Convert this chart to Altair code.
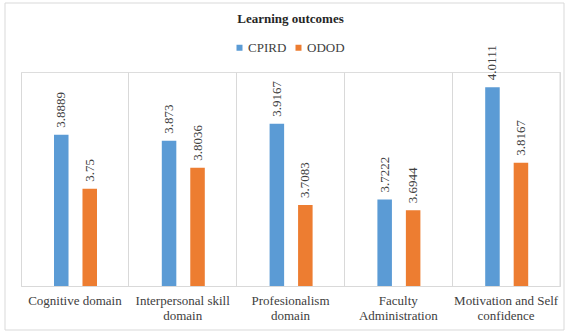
import altair as alt
import pandas as pd

categories = ["Cognitive domain", "Interpersonal skill domain", "Profesionalism domain",
              "Faculty Administration", "Motivation and Self confidence"]
category_lines = [["Cognitive domain"], ["Interpersonal skill", "domain"],
                  ["Profesionalism", "domain"], ["Faculty", "Administration"],
                  ["Motivation and Self", "confidence"]]
series = ["CPIRD", "ODOD"]
cpird = [3.8889, 3.873, 3.9167, 3.7222, 4.0111]
odod = [3.75, 3.8036, 3.7083, 3.6944, 3.8167]
value_labels_cpird = ["3.8889", "3.873", "3.9167", "3.7222", "4.0111"]
value_labels_odod = ["3.75", "3.8036", "3.7083", "3.6944", "3.8167"]
colors = ["#5B9BD5", "#ED7D31"]

rows = []
for i, c in enumerate(categories):
    rows.append({"category": c, "series": "CPIRD", "value": cpird[i], "label": value_labels_cpird[i]})
    rows.append({"category": c, "series": "ODOD", "value": odod[i], "label": value_labels_odod[i]})
df = pd.DataFrame(rows)

# label expression for multi-line category labels
parts = []
for c, lines in zip(categories, category_lines):
    arr = "[" + ",".join("'" + l + "'" for l in lines) + "]"
    parts.append(f"datum.label == '{c}' ? {arr} : ")
label_expr = "".join(parts) + "datum.label"

FONT = "Liberation Serif"
W, H = 539, 214

x_enc = alt.X("category:N", sort=categories,
              scale=alt.Scale(paddingInner=0, paddingOuter=0),
              axis=alt.Axis(title=None, labelAngle=0, labelExpr=label_expr,
                            labelFont=FONT, labelFontSize=13, labelColor="#404040",
                            labelPadding=8, labelLineHeight=15, labelBaseline="top",
                            ticks=False, grid=True, bandPosition=0,
                            gridColor="#D9D9D9", gridWidth=1,
                            domainColor="#D9D9D9", domainWidth=1))
xo_enc = alt.XOffset("series:N", sort=series,
                     scale=alt.Scale(paddingInner=0.49, paddingOuter=0, range=[33, 76]))
y_enc = alt.Y("value:Q", scale=alt.Scale(domain=[3.5, 4.05], clamp=True, zero=False, nice=False),
              axis=None)

base = alt.Chart(df)

bars = base.mark_bar(clip=True).encode(
    x=x_enc, xOffset=xo_enc, y=y_enc, y2=alt.datum(3.5),
    color=alt.Color("series:N", sort=series,
                    scale=alt.Scale(domain=series, range=colors),
                    legend=alt.Legend(title=None, orient="none", direction="horizontal",
                                      legendX=212, legendY=-31,
                                      symbolType="square", symbolSize=36,
                                      symbolStrokeWidth=0,
                                      labelFont=FONT, labelFontSize=13,
                                      labelColor="#404040", columnPadding=5,
                                      labelOffset=2)),
)

labels = base.mark_text(angle=270, align="left", baseline="middle", dx=7,
                        font=FONT, fontSize=13, color="#404040").encode(
    x=x_enc, xOffset=xo_enc, y=y_enc, text="label:N")

right_edge = alt.Chart(pd.DataFrame({"a": [0]})).mark_rule(color="#D9D9D9", strokeWidth=1).encode(
    x=alt.value(W), y=alt.value(0), y2=alt.value(H))

frame = alt.Chart(pd.DataFrame({"a": [0]})).mark_rect(
    fill=None, stroke="#D9D9D9", strokeWidth=1).encode(
    x=alt.value(-16), x2=alt.value(543), y=alt.value(-69), y2=alt.value(258))

chart = alt.layer(frame, bars, labels, right_edge).properties(
    width=W, height=H,
    title=alt.TitleParams("Learning outcomes", font=FONT, fontSize=13, fontWeight="bold",
                          color="#262626", anchor="middle", frame="group", offset=0,
                          baseline="bottom", dy=36),
    autosize=alt.AutoSizeParams(type="none"),
    padding={"left": 21, "top": 72, "right": 7, "bottom": 47},
).configure_view(stroke=None).configure(background="white", font=FONT).configure_axis(
    labelFont=FONT).configure_legend(labelFont=FONT).configure_text(font=FONT)

chart.save("out.html", embed_options={"renderer": "svg", "actions": False})
